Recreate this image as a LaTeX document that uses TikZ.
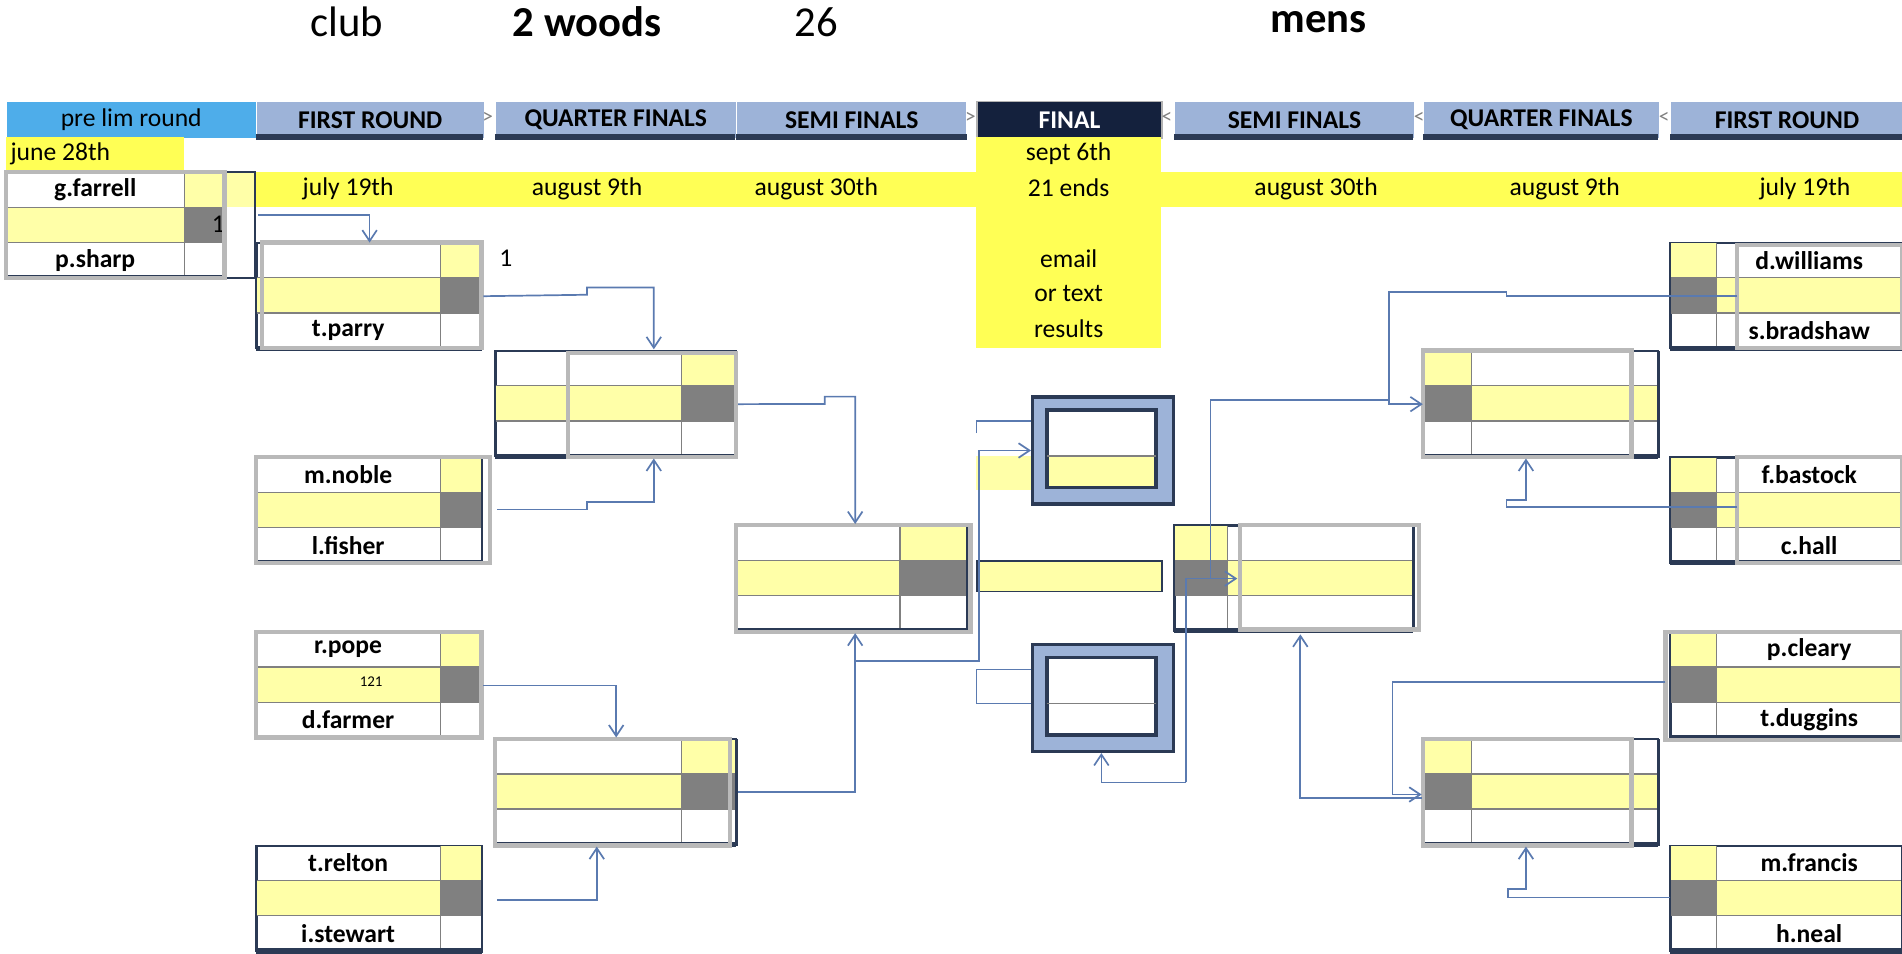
\documentclass[tikz,border=0pt]{standalone}
\usepackage{fontspec}
\setmainfont{Carlito}
\usetikzlibrary{positioning,arrows.meta}
\definecolor{hdr}{HTML}{9DB3D8}
\definecolor{hdrdark}{HTML}{14213D}
\definecolor{prelim}{HTML}{4EADEA}
\definecolor{datey}{HTML}{FFFF55}
\definecolor{paley}{HTML}{FFFFA8}
\definecolor{framec}{HTML}{2B3A55}
\definecolor{wirec}{HTML}{5A7AB0}
\tikzset{
  hdrbox/.style={fill=hdr,minimum height={30*0.01cm},inner sep=0pt,font=\fontsize{6}{7}\selectfont\bfseries,anchor=north west},
  boxframe/.style={draw=framec,line width=0.4pt,inner sep=0pt,anchor=north west},
  greyframe/.style={draw=gray!55,line width=1pt},
  rowline/.style={draw=gray,line width=0.3pt},
  nm/.style={font=\fontsize{6}{7}\selectfont\bfseries,inner sep=0pt},
  wire/.style={draw=wirec,line width=0.4pt},
  arr/.style={wire,-{Straight Barb[length=0.9mm,width=1.2mm]}},
}
% name, x, y, width, score width, side (0 left / 1 right), top name, bottom name
\newcommand{\bracketbox}[8]{%
  \node[boxframe,minimum width={#4*0.01cm},minimum height={87*0.01cm}] (#1) at (#2,#3) {};
  \begin{scope}[shift={(#1.north west)}]
    \fill[paley] (0,29) rectangle (#4,58);
    \ifnum#6=0
      \fill[paley] (#4-#5,0) rectangle (#4,29);
      \fill[gray] (#4-#5,29) rectangle (#4,58);
      \draw[rowline] (#4-#5,0) -- (#4-#5,87);
      \node[nm] at ({(#4-#5)/2},14.5) {#7};
      \node[nm] at ({(#4-#5)/2},72.5) {#8};
    \else
      \fill[paley] (0,0) rectangle (#5,29);
      \fill[gray] (0,29) rectangle (#5,58);
      \draw[rowline] (#5,0) -- (#5,87);
      \node[nm] at ({(#4+#5)/2},14.5) {#7};
      \node[nm] at ({(#4+#5)/2},72.5) {#8};
    \fi
    \draw[rowline] (0,29) -- (#4,29) (0,58) -- (#4,58);
    \draw[framec,line width=0.4pt] (0,0) rectangle (#4,87);
    \draw[framec,line width=1.2pt] (0,87) -- (#4,87);
  \end{scope}}
\begin{document}
\begin{tikzpicture}[x=0.01cm,y=-0.01cm]
\useasboundingbox (0,0) rectangle (1568,786);

% title row
\node[font=\fontsize{10}{12}\selectfont] (club) at (286,18) {club};
\node[font=\fontsize{10}{12}\selectfont\bfseries] (woods) at (484,18) {2 woods};
\node[font=\fontsize{10}{12}\selectfont] (num) at (673,18) {26};
\node[font=\fontsize{10}{12}\selectfont\bfseries] (mens) at (1087,18) {mens};

% round headers
\node[hdrbox,fill=prelim,minimum width={205*0.01cm},font=\fontsize{6}{7}\selectfont] (hpl) at (5,83) {pre lim round};
\node[hdrbox,minimum width={187*0.01cm}] (hfr1) at (211,83) {FIRST ROUND};
\node[hdrbox,minimum width={198*0.01cm}] (hqf1) at (408,83) {QUARTER FINALS};
\node[hdrbox,minimum width={189*0.01cm}] (hsf1) at (607,83) {SEMI FINALS};
\node[hdrbox,fill=hdrdark,text=white,draw=gray!60,minimum width={152*0.01cm}] (hfin) at (805,83) {FINAL};
\node[hdrbox,minimum width={197*0.01cm}] (hsf2) at (968,83) {SEMI FINALS};
\node[hdrbox,minimum width={194*0.01cm}] (hqf2) at (1173,83) {QUARTER FINALS};
\node[hdrbox,minimum width={191*0.01cm}] (hfr2) at (1377,83) {FIRST ROUND};
\foreach \a/\b in {211/398,408/606,607/797,968/1165,1173/1367,1377/1568}
  \draw[framec,line width=1.2pt] (\a,113) -- (\b,113);
\foreach \x in {402,800,962,1170,1372}
  \node[text=gray,font=\tiny] at (\x,97) {\ifnum\x<900 >\else <\fi};

% dates
\fill[datey] (211,142) rectangle (1568,171);
\fill[datey] (5,113) rectangle (152,142);
\fill[datey] (805,113) rectangle (957,287);
\node[anchor=west,font=\fontsize{6}{7}\selectfont,inner sep=0pt] (d0) at (8,127) {june 28th};
\foreach \x/\t in {287/july 19th,484/august 9th,673/august 30th,1085/august 30th,1290/august 9th,1488/july 19th}
  \node[font=\fontsize{6}{7}\selectfont] at (\x,156) {\t};
\foreach \y/\t in {127/sept 6th,155/21 ends,213/email,242/or text,271/results}
  \node[font=\fontsize{6}{7}\selectfont] at (881,\y) {\t};

% prelim
\bracketbox{pl}{5}{142}{180}{33}{0}{g.farrell}{p.sharp}
\fill[paley] (185,142) rectangle (210,171);
\draw[framec] (185,142) rectangle (210,229);
\node[font=\fontsize{6}{7}\selectfont] (n1) at (180,185) {1};

% left half
\bracketbox{fr1}{211}{200}{186}{34}{0}{}{t.parry}
\bracketbox{fr2}{211}{377}{186}{34}{0}{m.noble}{l.fisher}
\bracketbox{fr3}{211}{521}{186}{34}{0}{r.pope}{d.farmer}
\bracketbox{fr4}{211}{697}{186}{34}{0}{t.relton}{i.stewart}
\bracketbox{qf1}{408}{289}{199}{45}{0}{}{}
\bracketbox{qf2}{408}{609}{199}{45}{0}{}{}
\bracketbox{sf1}{607}{433}{190}{55}{0}{}{}
\node[font=\fontsize{6}{7}\selectfont] (n2) at (417,213) {1};
\node[font=\fontsize{3.5}{4}\selectfont] (n3) at (306,562) {121};

% right half
\bracketbox{sf2}{968}{433}{197}{44}{1}{}{}
\bracketbox{qf3}{1173}{289}{194}{40}{1}{}{}
\bracketbox{qf4}{1173}{609}{194}{40}{1}{}{}
\bracketbox{fr5}{1377}{200}{191}{38}{1}{d.williams}{s.bradshaw}
\bracketbox{fr6}{1377}{377}{191}{38}{1}{f.bastock}{c.hall}
\bracketbox{fr7}{1377}{521}{191}{38}{1}{p.cleary}{t.duggins}
\bracketbox{fr8}{1377}{697}{191}{38}{1}{m.francis}{h.neal}

% grey overlay frames
\draw[greyframe] (5,142) rectangle (185,229);
\draw[greyframe] (216,200) rectangle (397,287);
\draw[greyframe] (211,377) rectangle (404,464);
\draw[greyframe] (211,521) rectangle (397,608);
\draw[greyframe] (468,291) rectangle (607,377);
\draw[greyframe] (408,609) rectangle (602,697);
\draw[greyframe] (607,433) rectangle (800,521);
\draw[greyframe] (1022,433) rectangle (1170,519);
\draw[greyframe] (1173,289) rectangle (1345,377);
\draw[greyframe] (1173,609) rectangle (1345,697);
\draw[greyframe] (1432,202) rectangle (1568,287);
\draw[greyframe] (1432,377) rectangle (1568,464);
\draw[greyframe] (1373,521) rectangle (1568,610);

% final
\node[draw=framec,fill=paley,minimum width={152*0.01cm},minimum height={25*0.01cm},inner sep=0pt,anchor=north west] (fbar) at (805,462) {};
\fill[paley] (805,376) rectangle (850,404);
\foreach \n/\y in {fa/326,fb/530}{
  \node[draw=framec,fill=hdr,line width=0.8pt,minimum width={116*0.01cm},minimum height={88*0.01cm},inner sep=0pt,anchor=north west] (\n) at (850,\y) {};
  \fill[white] (863,\y+12) rectangle (953,\y+50);
  \fill[\ifnum\y<400 paley\else white\fi] (863,\y+50) rectangle (953,\y+76);
  \draw[framec,line width=0.8pt] (863,\y+12) rectangle (953,\y+76);
  \draw[rowline] (863,\y+50) -- (953,\y+50);
}

% connectors left
\draw[arr] (213,177) -| (fr1.north);
\draw[arr] (fr1.east) -- (484,243) -- (484,237) -| (539,288);
\draw[arr] (410,420) -- (484,420) -- (484,414) -| (539,378);
\draw[arr] (qf1.east) -- (680,333) -- (680,327) -| (705,432);
\draw[arr] (fr3.east) -| (508,608);
\draw[arr] (410,742) -| (492,698);
\draw[arr] (qf2.east) -| (705,522);
\draw[arr] (705,545) -- (807,545) |- (fa.west);
\draw[wire] (805,357) -- (805,347) -- (fa.west|-0,347);
\draw[wire] (fb.west|-0,552) -- (805,552) -- (805,580) -- (fb.west|-0,580);

% connectors right
\draw[arr] (978,645) -- (908,645) -- (fb.south-|908,0);
\draw[arr] (978,645) -- (978,477) -- (1020,477);
\draw[wire] (998,477) -- (998,330) -- (1145,330);
\draw[arr] (1432,244) -- (1242,244) -- (1242,241) -- (1145,241) |- (qf3.west);
\draw[arr] (1432,418) -- (1242,418) -- (1242,412) -- (1258,412) -- (1258,378);
\draw[arr] (1373,562) -- (1148,562) |- (1172,655);
\draw[arr] (1172,658) -- (1072,658) -- (1072,523);
\draw[arr] (1377,740) -- (1243,740) -- (1243,733) -- (1258,733) -- (1258,698);
\end{tikzpicture}
\end{document}
